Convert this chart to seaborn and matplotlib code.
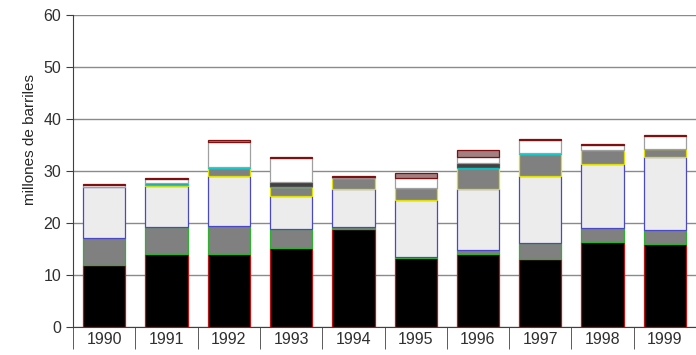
import numpy as np
import pandas as pd
import matplotlib
matplotlib.use("Agg")
import matplotlib.pyplot as plt
import seaborn as sns

# data (millones de barriles)
years = ["1990", "1991", "1992", "1993", "1994", "1995", "1996", "1997", "1998", "1999"]
s_black = [12.0, 14.1, 14.1, 15.2, 18.9, 13.4, 14.1, 13.2, 16.4, 16.0]
s_gray = [5.1, 5.1, 5.4, 3.7, 0.4, 0.15, 0.7, 3.0, 2.7, 2.8]
s_light = [9.8, 7.9, 9.6, 6.3, 7.3, 10.85, 11.8, 12.8, 12.2, 14.0]
s_gray2 = [0.0, 0.3, 1.6, 1.7, 2.1, 2.4, 4.1, 4.3, 2.8, 1.5]
s_teal = [0.0, 0.3, 0.2, 0.2, 0.0, 0.0, 0.2, 0.2, 0.0, 0.0]
s_dark = [0.0, 0.0, 0.0, 0.9, 0.0, 0.0, 0.7, 0.0, 0.0, 0.0]
s_white = [0.5, 0.8, 4.8, 4.6, 0.2, 1.8, 1.2, 2.4, 1.0, 2.4]
s_rosy = [0.2, 0.2, 0.2, 0.2, 0.2, 1.0, 1.3, 0.2, 0.2, 0.2]

layers = [
    (s_black, "#000000", "#c01010"),
    (s_gray, "#808080", "#30b030"),
    (s_light, "#ececec", "#4848c8"),
    (s_gray2, "#808080", "#e0e000"),
    (s_teal, "#20a0a0", "#00d0d0"),
    (s_dark, "#404040", "#505050"),
    (s_white, "#ffffff", "#a0a0a0"),
    (s_rosy, "#a08080", "#801010"),
]

sns.set_style("white")
plt.rcParams["font.family"] = ["Liberation Sans", "DejaVu Sans"]

fig = plt.figure(figsize=(6.96, 3.55), dpi=100)
ax = fig.add_axes([0.105, 0.0775, 0.895, 0.8805])

# stack the segments bottom to top
base = np.zeros(len(years))
for vals, fill, edge in layers:
    df = pd.DataFrame({"year": years, "val": vals})
    n_before = len(ax.patches)
    sns.barplot(data=df, x="year", y="val", color=fill, saturation=1,
                edgecolor=edge, linewidth=0.9, width=0.68, bottom=base.copy(),
                errorbar=None, ax=ax, zorder=3)
    for p in ax.patches[n_before:]:
        if p.get_height() <= 0:
            p.set_visible(False)
    base = base + np.array(vals)

ax.set_ylim(0, 60)
ax.set_xlim(-0.5, 9.5)
ax.set_yticks(range(0, 61, 10))
ax.yaxis.grid(True, color="#8a8a8a", linewidth=1.0)
ax.set_axisbelow(True)
ax.set_xlabel("")
ax.set_ylabel("millones de barriles", fontsize=11)
ax.yaxis.set_label_coords(-0.058, 0.6)

for side in ["top", "right"]:
    ax.spines[side].set_visible(False)
ax.spines["left"].set_color("#404040")
ax.spines["bottom"].set_color("#404040")

ax.tick_params(axis="y", direction="out", length=5, color="#404040",
               labelsize=11.5, labelcolor="#303030", left=True)
ax.tick_params(axis="x", which="major", length=0, labelsize=11.5,
               labelcolor="#303030", pad=3)
ax.set_xticks(np.arange(-0.5, 10, 1), minor=True)
ax.tick_params(axis="x", which="minor", length=16, color="#404040",
               direction="out", bottom=True)

fig.savefig("out.png", dpi=100)
